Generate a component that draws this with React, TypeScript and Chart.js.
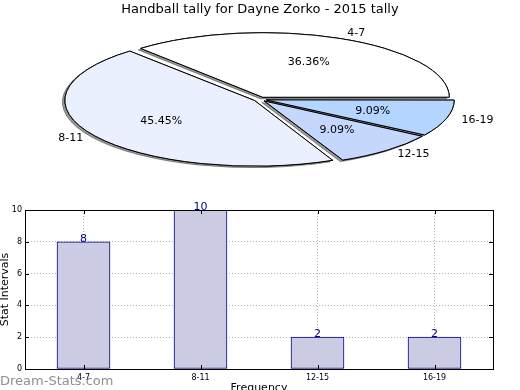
import React, { useEffect, useRef } from 'react';
import { Chart, registerables } from 'chart.js';

Chart.register(...registerables);

// ---------- data ----------
const chartTitle = 'Handball tally for Dayne Zorko - 2015 tally';
const categories = ['4-7', '8-11', '12-15', '16-19'];
const values = [8, 10, 2, 2];
const pieColors = ['#ffffff', '#eaf0fd', '#c6d7fd', '#b3d5ff'];
const yTickValues = [0, 2, 4, 6, 8, 10];
const xAxisTitle = 'Frequency';
const yAxisTitle = 'Stat Intervals';
const watermark = 'Dream-Stats.com';

// ---------- styles ----------
const FONT = '"DejaVu Sans", Verdana, sans-serif';
const SQUASH = 0.346;
const BAR_FILL = '#cbcbe3';
const BAR_EDGE = '#000080';
const LABEL_BLUE = '#00008b';
const GRID = '#b4b4b4';

Chart.defaults.font.family = FONT;
Chart.defaults.color = '#000';

// pie drawn counter-clockwise from east in the original; Chart.js goes clockwise,
// so the order is reversed and the rotation starts at east.
const pieLabels = [...categories].reverse();
const pieValues = [...values].reverse();
const pieFill = [...pieColors].reverse();

const pieSquashPlugin = {
  id: 'pieSquash',
  beforeDatasetsDraw(chart: any) {
    const ctx = chart.ctx as any;
    const base = ctx.getTransform();
    const cy = (chart.chartArea.top + chart.chartArea.bottom) / 2;
    ctx.save();
    ctx.translate(0, cy);
    ctx.scale(1, SQUASH);
    ctx.translate(0, -cy);
    const orig = CanvasRenderingContext2D.prototype.stroke;
    ctx.stroke = function (...args: any[]) {
      this.save();
      this.setTransform(base);
      orig.apply(this, args as any);
      this.restore();
    };
    // shadow pass underneath all wedges
    const meta = chart.getDatasetMeta(0);
    ctx.save();
    ctx.shadowColor = 'rgba(70,70,70,0.55)';
    ctx.shadowOffsetX = -2.5;
    ctx.shadowOffsetY = 1.5;
    ctx.shadowBlur = 0;
    meta.data.forEach((arc: any) => arc.draw(ctx));
    ctx.restore();
  },
  afterDatasetsDraw(chart: any) {
    const ctx = chart.ctx as any;
    delete ctx.stroke;
    ctx.restore();
  },
};

const pieLabelPlugin = {
  id: 'pieLabels',
  afterDraw(chart: any) {
    const ctx = chart.ctx;
    const meta = chart.getDatasetMeta(0);
    const labels = chart.data.labels;
    const data = chart.data.datasets[0].data as number[];
    const total = data.reduce((s, v) => s + v, 0);
    ctx.save();
    ctx.font = `11px ${FONT}`;
    ctx.fillStyle = '#000';
    ctx.textBaseline = 'middle';
    meta.data.forEach((arc: any, i: number) => {
      const { x, y, startAngle, endAngle, outerRadius } = arc.getProps(
        ['x', 'y', 'startAngle', 'endAngle', 'outerRadius'],
        true
      );
      const a = (startAngle + endAngle) / 2;
      const shift = (arc.options.offset || 0) / 4;
      const pt = (f: number) => ({
        px: x + Math.cos(a) * (shift + f * outerRadius),
        py: y + Math.sin(a) * (shift + f * outerRadius) * SQUASH,
      });
      const l = pt(1.1);
      ctx.textAlign = Math.cos(a) >= 0 ? 'left' : 'right';
      ctx.fillText(labels[i], l.px, l.py);
      const p = pt(0.6);
      ctx.textAlign = 'center';
      ctx.fillText(((data[i] / total) * 100).toFixed(2) + '%', p.px, p.py);
    });
    ctx.restore();
  },
};

const barDecorPlugin = {
  id: 'barDecor',
  afterDraw(chart: any) {
    const ctx = chart.ctx;
    const { left, right, top, bottom } = chart.chartArea;
    const xs = chart.scales.x;
    const ys = chart.scales.y;
    ctx.save();
    // frame
    ctx.strokeStyle = '#000';
    ctx.lineWidth = 1;
    ctx.strokeRect(Math.round(left) + 0.5, Math.round(top) + 0.5, Math.round(right - left), Math.round(bottom - top));
    // inward tick marks
    ctx.beginPath();
    yTickValues.forEach((v) => {
      const py = Math.round(ys.getPixelForValue(v)) + 0.5;
      ctx.moveTo(left, py);
      ctx.lineTo(left + 4, py);
      ctx.moveTo(right, py);
      ctx.lineTo(right - 4, py);
    });
    categories.forEach((_, i) => {
      const px = Math.round(xs.getPixelForTick(i)) + 0.5;
      ctx.moveTo(px, bottom);
      ctx.lineTo(px, bottom - 4);
      ctx.moveTo(px, top);
      ctx.lineTo(px, top + 4);
    });
    ctx.stroke();
    // value labels
    const meta = chart.getDatasetMeta(0);
    ctx.font = `11px ${FONT}`;
    ctx.fillStyle = LABEL_BLUE;
    ctx.textAlign = 'center';
    ctx.textBaseline = 'alphabetic';
    meta.data.forEach((bar: any, i: number) => {
      ctx.fillText(String(values[i]), bar.x, bar.y);
    });
    // watermark
    ctx.font = `13px ${FONT}`;
    ctx.fillStyle = 'rgba(115,115,115,0.8)';
    ctx.textAlign = 'left';
    ctx.fillText(watermark, 0, chart.height - 15);
    ctx.restore();
  },
};

export default function App() {
  const pieRef = useRef<HTMLCanvasElement>(null);
  const barRef = useRef<HTMLCanvasElement>(null);

  useEffect(() => {
    const pie = new Chart(pieRef.current as HTMLCanvasElement, {
      type: 'pie',
      data: {
        labels: pieLabels,
        datasets: [
          {
            data: pieValues,
            backgroundColor: pieFill,
            borderColor: '#000',
            borderWidth: 1,
            borderJoinStyle: 'miter',
            offset: 26,
          } as any,
        ],
      },
      options: {
        responsive: false,
        animation: false,
        events: [],
        rotation: 90,
        radius: 185,
        layout: { padding: { bottom: 11 } },
        plugins: {
          legend: { display: false },
          tooltip: { enabled: false },
          title: {
            display: true,
            text: chartTitle,
            color: '#000',
            font: { family: FONT, size: 13, weight: 'normal' },
            padding: { top: 2, bottom: 2 },
          },
        },
      } as any,
      plugins: [pieSquashPlugin, pieLabelPlugin],
    });

    const bar = new Chart(barRef.current as HTMLCanvasElement, {
      type: 'bar',
      data: {
        labels: categories,
        datasets: [
          {
            data: values,
            backgroundColor: BAR_FILL,
            borderColor: BAR_EDGE,
            borderWidth: 1,
            borderSkipped: false,
            barThickness: 53,
          } as any,
        ],
      },
      options: {
        responsive: false,
        animation: false,
        events: [],
        layout: { padding: { top: 20, right: 27, left: 0, bottom: 0 } },
        plugins: { legend: { display: false }, tooltip: { enabled: false } },
        scales: {
          x: {
            z: 1,
            grid: { offset: false, color: GRID, lineWidth: 1, drawTicks: false },
            border: { display: false, dash: [1, 2] },
            ticks: { font: { size: 8 }, color: '#000', padding: 4, maxRotation: 0 },
            title: {
              display: true,
              text: xAxisTitle,
              color: '#000',
              font: { size: 11 },
              padding: { top: 0, bottom: 5 },
            },
            afterFit: (s: any) => {
              s.height = 31;
            },
          },
          y: {
            z: 1,
            min: 0,
            max: 10,
            grid: { color: GRID, lineWidth: 1, drawTicks: false },
            border: { display: false, dash: [1, 2] },
            ticks: { stepSize: 2, font: { size: 8 }, color: '#000', padding: 3 },
            title: {
              display: true,
              text: yAxisTitle,
              color: '#000',
              font: { size: 11, lineHeight: 1 },
              padding: { top: 0, bottom: 0 },
            },
            afterFit: (s: any) => {
              s.width = 25;
            },
          },
        },
      } as any,
      plugins: [barDecorPlugin],
    });

    return () => {
      pie.destroy();
      bar.destroy();
    };
  }, []);

  return (
    <div
      style={{
        position: 'absolute',
        left: 0,
        top: 0,
        width: 520,
        height: 390,
        overflow: 'hidden',
        background: '#fff',
      }}
    >
      <canvas ref={pieRef} width={520} height={190} style={{ position: 'absolute', left: 0, top: 0 }} />
      <canvas ref={barRef} width={520} height={210} style={{ position: 'absolute', left: 0, top: 190 }} />
    </div>
  );
}
